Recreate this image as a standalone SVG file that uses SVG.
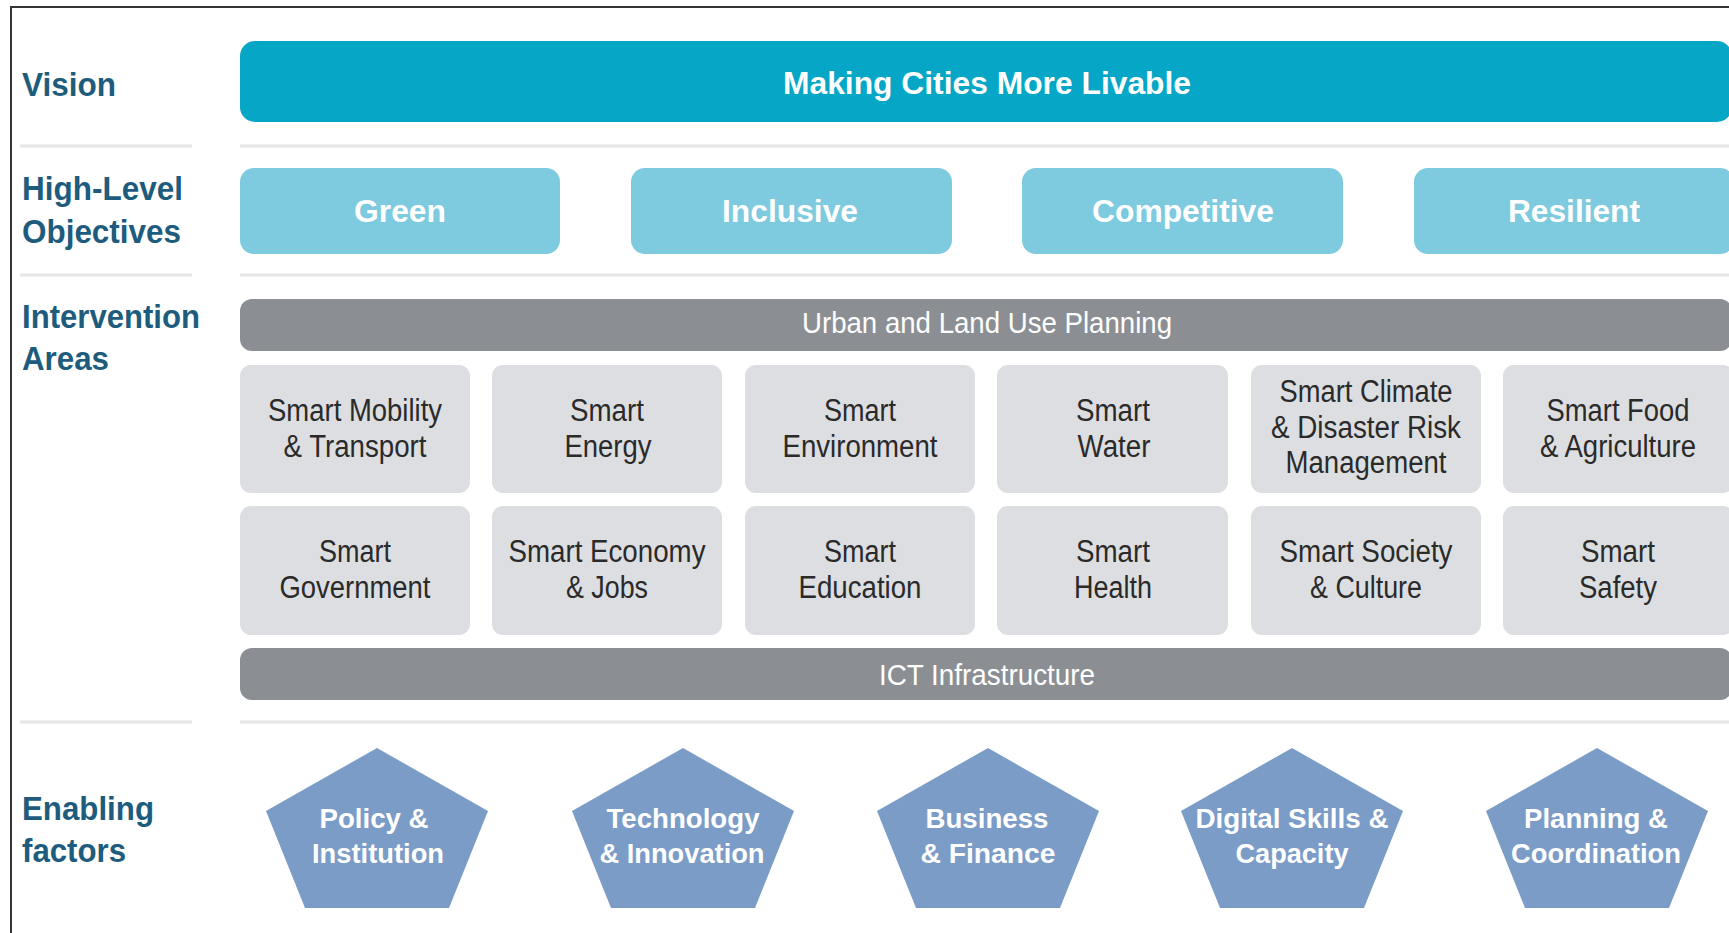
<svg xmlns="http://www.w3.org/2000/svg" width="1729" height="933" viewBox="0 0 1729 933">
<defs>
<style>
.lbl{font-family:"Liberation Sans",Arial,sans-serif;font-weight:bold;font-size:33px;fill:#1e5c7d}
.sep{stroke:#e6e6e6;stroke-width:3;fill:none}
.vis{fill:#05a6c6}
.obj{fill:#7ecadf}
.objt{font-family:"Liberation Sans",Arial,sans-serif;font-weight:bold;font-size:31px;fill:#ffffff;text-anchor:middle}
.bar{fill:#8b8f94}
.bart{font-family:"Liberation Sans",Arial,sans-serif;font-size:29px;fill:#ffffff;text-anchor:middle}
.box{fill:#dcdee1}
.boxt{font-family:"Liberation Sans",Arial,sans-serif;font-size:31px;fill:#2a2a2a;text-anchor:middle}
.pent{fill:#7b9cc7}
.pentt{font-family:"Liberation Sans",Arial,sans-serif;font-weight:bold;font-size:28px;fill:#ffffff;text-anchor:middle}
</style>
</defs>
<rect x="0" y="0" width="1729" height="933" fill="#ffffff"/>
<g id="frame">
<path d="M11,933 L11,7 L1729,7" stroke="#333333" stroke-width="2" fill="none"/>
</g>
<g id="separators">
<line class="sep" x1="20" y1="146" x2="192" y2="146"/>
<line class="sep" x1="240" y1="146" x2="1729" y2="146"/>
<line class="sep" x1="20" y1="275" x2="192" y2="275"/>
<line class="sep" x1="240" y1="275" x2="1729" y2="275"/>
<line class="sep" x1="20" y1="722" x2="192" y2="722"/>
<line class="sep" x1="240" y1="722" x2="1729" y2="722"/>
</g>
<g id="row-labels">
<text class="lbl" x="22" y="96" textLength="94" lengthAdjust="spacingAndGlyphs">Vision</text>
<text class="lbl" x="22" y="200" textLength="161" lengthAdjust="spacingAndGlyphs">High-Level</text>
<text class="lbl" x="22" y="243" textLength="159" lengthAdjust="spacingAndGlyphs">Objectives</text>
<text class="lbl" x="22" y="328" textLength="178" lengthAdjust="spacingAndGlyphs">Intervention</text>
<text class="lbl" x="22" y="370" textLength="87" lengthAdjust="spacingAndGlyphs">Areas</text>
<text class="lbl" x="22" y="820" textLength="132" lengthAdjust="spacingAndGlyphs">Enabling</text>
<text class="lbl" x="22" y="862" textLength="104" lengthAdjust="spacingAndGlyphs">factors</text>
</g>
<g id="vision">
<rect class="vis" x="240" y="41" width="1492" height="81" rx="15"/>
<text class="objt" x="987" y="94" font-size="32" textLength="408" lengthAdjust="spacingAndGlyphs">Making Cities More Livable</text>
</g>
<g id="obj-green">
<rect class="obj" x="240" y="168" width="320" height="86" rx="14"/>
<text class="objt" x="400" y="222" textLength="92" lengthAdjust="spacingAndGlyphs">Green</text>
</g>
<g id="obj-inclusive">
<rect class="obj" x="631" y="168" width="321" height="86" rx="14"/>
<text class="objt" x="790" y="222" textLength="136" lengthAdjust="spacingAndGlyphs">Inclusive</text>
</g>
<g id="obj-competitive">
<rect class="obj" x="1022" y="168" width="321" height="86" rx="14"/>
<text class="objt" x="1183" y="222" textLength="182" lengthAdjust="spacingAndGlyphs">Competitive</text>
</g>
<g id="obj-resilient">
<rect class="obj" x="1414" y="168" width="320" height="86" rx="14"/>
<text class="objt" x="1574" y="222" textLength="132" lengthAdjust="spacingAndGlyphs">Resilient</text>
</g>
<g id="urban-planning">
<rect class="bar" x="240" y="299" width="1492" height="52" rx="12"/>
<text class="bart" x="987" y="333" textLength="370" lengthAdjust="spacingAndGlyphs">Urban and Land Use Planning</text>
</g>
<g id="smart-mobility">
<rect class="box" x="240" y="365" width="230" height="128" rx="11"/>
<text class="boxt" x="355" y="421" textLength="174" lengthAdjust="spacingAndGlyphs">Smart Mobility</text>
<text class="boxt" x="355" y="457" textLength="143" lengthAdjust="spacingAndGlyphs">&amp; Transport</text>
</g>
<g id="smart-energy">
<rect class="box" x="492" y="365" width="230" height="128" rx="11"/>
<text class="boxt" x="607" y="421" textLength="74" lengthAdjust="spacingAndGlyphs">Smart</text>
<text class="boxt" x="608" y="457" textLength="87" lengthAdjust="spacingAndGlyphs">Energy</text>
</g>
<g id="smart-environment">
<rect class="box" x="745" y="365" width="230" height="128" rx="11"/>
<text class="boxt" x="860" y="421" textLength="72" lengthAdjust="spacingAndGlyphs">Smart</text>
<text class="boxt" x="860" y="457" textLength="155" lengthAdjust="spacingAndGlyphs">Environment</text>
</g>
<g id="smart-water">
<rect class="box" x="997" y="365" width="231" height="128" rx="11"/>
<text class="boxt" x="1113" y="421" textLength="74" lengthAdjust="spacingAndGlyphs">Smart</text>
<text class="boxt" x="1114" y="457" textLength="73" lengthAdjust="spacingAndGlyphs">Water</text>
</g>
<g id="smart-climate">
<rect class="box" x="1251" y="365" width="230" height="128" rx="11"/>
<text class="boxt" x="1366" y="402" textLength="173" lengthAdjust="spacingAndGlyphs">Smart Climate</text>
<text class="boxt" x="1366" y="438" textLength="190" lengthAdjust="spacingAndGlyphs">&amp; Disaster Risk</text>
<text class="boxt" x="1366" y="473" textLength="161" lengthAdjust="spacingAndGlyphs">Management</text>
</g>
<g id="smart-food">
<rect class="box" x="1503" y="365" width="231" height="128" rx="11"/>
<text class="boxt" x="1618" y="421" textLength="143" lengthAdjust="spacingAndGlyphs">Smart Food</text>
<text class="boxt" x="1618" y="457" textLength="156" lengthAdjust="spacingAndGlyphs">&amp; Agriculture</text>
</g>
<g id="smart-government">
<rect class="box" x="240" y="506" width="230" height="129" rx="11"/>
<text class="boxt" x="355" y="562" textLength="72" lengthAdjust="spacingAndGlyphs">Smart</text>
<text class="boxt" x="355" y="598" textLength="151" lengthAdjust="spacingAndGlyphs">Government</text>
</g>
<g id="smart-economy">
<rect class="box" x="492" y="506" width="230" height="129" rx="11"/>
<text class="boxt" x="607" y="562" textLength="197" lengthAdjust="spacingAndGlyphs">Smart Economy</text>
<text class="boxt" x="607" y="598" textLength="82" lengthAdjust="spacingAndGlyphs">&amp; Jobs</text>
</g>
<g id="smart-education">
<rect class="box" x="745" y="506" width="230" height="129" rx="11"/>
<text class="boxt" x="860" y="562" textLength="72" lengthAdjust="spacingAndGlyphs">Smart</text>
<text class="boxt" x="860" y="598" textLength="123" lengthAdjust="spacingAndGlyphs">Education</text>
</g>
<g id="smart-health">
<rect class="box" x="997" y="506" width="231" height="129" rx="11"/>
<text class="boxt" x="1113" y="562" textLength="74" lengthAdjust="spacingAndGlyphs">Smart</text>
<text class="boxt" x="1113" y="598" textLength="78" lengthAdjust="spacingAndGlyphs">Health</text>
</g>
<g id="smart-society">
<rect class="box" x="1251" y="506" width="230" height="129" rx="11"/>
<text class="boxt" x="1366" y="562" textLength="173" lengthAdjust="spacingAndGlyphs">Smart Society</text>
<text class="boxt" x="1366" y="598" textLength="112" lengthAdjust="spacingAndGlyphs">&amp; Culture</text>
</g>
<g id="smart-safety">
<rect class="box" x="1503" y="506" width="231" height="129" rx="11"/>
<text class="boxt" x="1618" y="562" textLength="74" lengthAdjust="spacingAndGlyphs">Smart</text>
<text class="boxt" x="1618" y="598" textLength="78" lengthAdjust="spacingAndGlyphs">Safety</text>
</g>
<g id="ict-infrastructure">
<rect class="bar" x="240" y="648" width="1492" height="52" rx="12"/>
<text class="bart" x="987" y="685" textLength="216" lengthAdjust="spacingAndGlyphs">ICT Infrastructure</text>
</g>
<g id="policy">
<polygon class="pent" points="377,748 488,811 449,908 305,908 266,811"/>
<text class="pentt" x="374" y="828" textLength="109" lengthAdjust="spacingAndGlyphs">Policy &amp;</text>
<text class="pentt" x="378" y="863" textLength="132" lengthAdjust="spacingAndGlyphs">Institution</text>
</g>
<g id="technology">
<polygon class="pent" points="683,748 794,811 755,908 611,908 572,811"/>
<text class="pentt" x="683" y="828" textLength="153" lengthAdjust="spacingAndGlyphs">Technology</text>
<text class="pentt" x="682" y="863" textLength="165" lengthAdjust="spacingAndGlyphs">&amp; Innovation</text>
</g>
<g id="business">
<polygon class="pent" points="988,748 1099,811 1060,908 916,908 877,811"/>
<text class="pentt" x="987" y="828" textLength="123" lengthAdjust="spacingAndGlyphs">Business</text>
<text class="pentt" x="988" y="863" textLength="135" lengthAdjust="spacingAndGlyphs">&amp; Finance</text>
</g>
<g id="digital-skills">
<polygon class="pent" points="1292,748 1403,811 1364,908 1220,908 1181,811"/>
<text class="pentt" x="1292" y="828" textLength="193" lengthAdjust="spacingAndGlyphs">Digital Skills &amp;</text>
<text class="pentt" x="1292" y="863" textLength="113" lengthAdjust="spacingAndGlyphs">Capacity</text>
</g>
<g id="planning">
<polygon class="pent" points="1597,748 1708,811 1669,908 1525,908 1486,811"/>
<text class="pentt" x="1596" y="828" textLength="144" lengthAdjust="spacingAndGlyphs">Planning &amp;</text>
<text class="pentt" x="1596" y="863" textLength="170" lengthAdjust="spacingAndGlyphs">Coordination</text>
</g>
<g id="connectors"></g>
</svg>
